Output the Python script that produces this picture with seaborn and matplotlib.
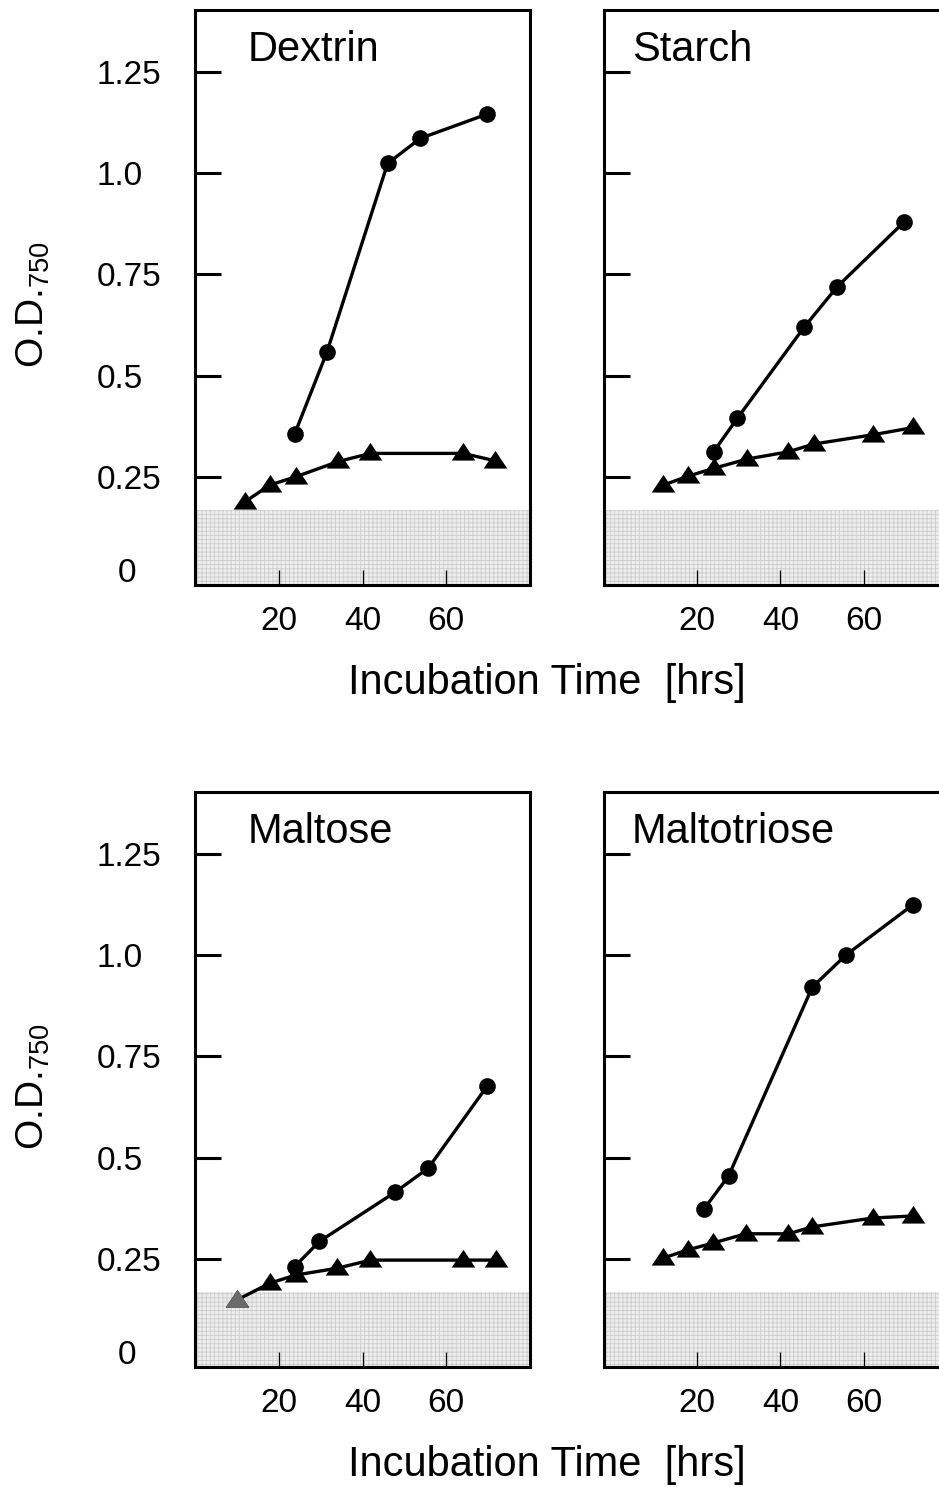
import numpy as np
import matplotlib
matplotlib.use("Agg")
import matplotlib.pyplot as plt
from matplotlib.path import Path
from matplotlib.transforms import ScaledTranslation
import seaborn as sns

'''DATA'''
panels = ["Dextrin", "Starch", "Maltose", "Maltotriose"]

dextrin_circ_t = [23.8, 31.5, 46.0, 53.8, 69.8]
dextrin_circ_od = [0.356, 0.558, 1.024, 1.086, 1.146]
dextrin_tri_t = [12.0, 17.9, 24.0, 34.2, 41.9, 64.0, 71.6]
dextrin_tri_od = [0.189, 0.230, 0.250, 0.288, 0.308, 0.308, 0.290]

starch_circ_t = [24.0, 29.7, 45.6, 53.6, 69.6]
starch_circ_od = [0.312, 0.395, 0.619, 0.720, 0.880]
starch_tri_t = [12.0, 18.0, 24.0, 32.0, 41.9, 47.9, 62.1, 71.8]
starch_tri_od = [0.230, 0.252, 0.271, 0.294, 0.312, 0.331, 0.354, 0.372]

maltose_circ_t = [23.8, 29.7, 47.7, 55.7, 69.8]
maltose_circ_od = [0.231, 0.293, 0.414, 0.474, 0.677]
maltose_tri_t = [10.1, 17.9, 24.0, 34.0, 41.9, 64.0, 71.8]
maltose_tri_od = [0.149, 0.190, 0.210, 0.227, 0.247, 0.247, 0.247]

maltotriose_circ_t = [21.7, 27.6, 47.6, 55.6, 71.6]
maltotriose_circ_od = [0.373, 0.455, 0.921, 1.000, 1.124]
maltotriose_tri_t = [11.9, 17.8, 23.8, 31.7, 41.9, 47.6, 62.1, 71.8]
maltotriose_tri_od = [0.252, 0.272, 0.289, 0.312, 0.312, 0.329, 0.351, 0.356]

series = {
    "Dextrin": (dextrin_circ_t, dextrin_circ_od, dextrin_tri_t, dextrin_tri_od),
    "Starch": (starch_circ_t, starch_circ_od, starch_tri_t, starch_tri_od),
    "Maltose": (maltose_circ_t, maltose_circ_od, maltose_tri_t, maltose_tri_od),
    "Maltotriose": (maltotriose_circ_t, maltotriose_circ_od, maltotriose_tri_t, maltotriose_tri_od),
}

y_ticks = [0, 0.25, 0.5, 0.75, 1.0, 1.25]
y_ticklabels = ["0", "0.25", "0.5", "0.75", "1.0", "1.25"]
x_ticks = [20, 40, 60]
blank_level = 0.168

'''STYLE'''
sns.set_style("ticks")
plt.rcParams["font.family"] = ["Liberation Sans", "DejaVu Sans"]
plt.rcParams["mathtext.fontset"] = "custom"
plt.rcParams["mathtext.rm"] = "Liberation Sans"
plt.rcParams["mathtext.default"] = "regular"
plt.rcParams["hatch.linewidth"] = 0.6
for key in ["text.color", "axes.edgecolor", "axes.labelcolor", "xtick.color", "ytick.color"]:
    plt.rcParams[key] = "black"

# flat triangle marker
tri = Path([(-1, -0.6), (1, -0.6), (0, 0.9), (-1, -0.6)],
           [Path.MOVETO, Path.LINETO, Path.LINETO, Path.CLOSEPOLY])

fig = plt.figure(figsize=(9.39, 14.87), dpi=100)
W, H = 939, 1487

# pixel boxes: (left, top) of each panel
boxes = {"Dextrin": (195, 10), "Starch": (604, 10),
         "Maltose": (195, 792), "Maltotriose": (604, 792)}
aw, ah = 335, 575

for name in panels:
    left, top = boxes[name]
    ax = fig.add_axes([left / W, 1 - (top + ah) / H, aw / W, ah / H])
    right_col = left > 400
    ct, cod, tt, tod = series[name]

    ax.axhspan(-0.1, blank_level, facecolor="#eeeeee", edgecolor="#cccccc",
               hatch="++++", lw=0, zorder=0)

    sns.lineplot(x=ct, y=cod, ax=ax, color="black", lw=2.4, marker="o",
                 markersize=12, markeredgewidth=0, sort=False, zorder=3)
    sns.lineplot(x=tt, y=tod, ax=ax, color="black", lw=2.4, marker=tri,
                 markersize=17, markeredgewidth=0, sort=False, zorder=3)
    if name == "Maltose":
        sns.lineplot(x=tt[:1], y=tod[:1], ax=ax, color="#6a6a6a", marker=tri,
                     markersize=17, markeredgewidth=0, zorder=4)

    if right_col:
        ax.set_xlim(-2.2, 77.9)
    else:
        ax.set_xlim(0, 80)
    ax.set_ylim(-0.017, 1.403)

    ax.set_yticks(y_ticks)
    ax.tick_params(axis="y", direction="in", length=19, width=2.2, left=True)
    if right_col:
        ax.set_yticklabels([])
    else:
        ax.set_yticklabels(y_ticklabels, fontsize=24, ha="left")
        ax.tick_params(axis="y", pad=71)
    ax.set_xticks(x_ticks)
    ax.set_xticklabels([str(v) for v in x_ticks], fontsize=24)
    ax.tick_params(axis="x", direction="in", length=11, width=0.9, pad=15)

    # no tick mark at zero, and its label sits further right and a bit higher
    zero_tick = ax.yaxis.get_major_ticks()[0]
    zero_tick.tick1line.set_visible(False)
    if not right_col:
        lab = zero_tick.label1
        lab.set_transform(lab.get_transform() + ScaledTranslation(0.21, 0.08, fig.dpi_scale_trans))

    for s in ax.spines.values():
        s.set_linewidth(2.2)
    if right_col:
        ax.spines["right"].set_visible(False)

    ax.text(0.083 if right_col else 0.158, 0.931, name, transform=ax.transAxes,
            fontsize=30, ha="left", va="center")
    ax.set_xlabel("")
    ax.set_ylabel("")

for top in (10, 792):
    fig.text(547 / W, 1 - (top + 673) / H, "Incubation Time  [hrs]",
             fontsize=30, ha="center", va="center")
    fig.text(33 / W, 1 - (top + 295) / H, "O.D.$_{750}$", fontsize=28,
             rotation=90, ha="center", va="center")

fig.savefig("out.png", dpi=100)
